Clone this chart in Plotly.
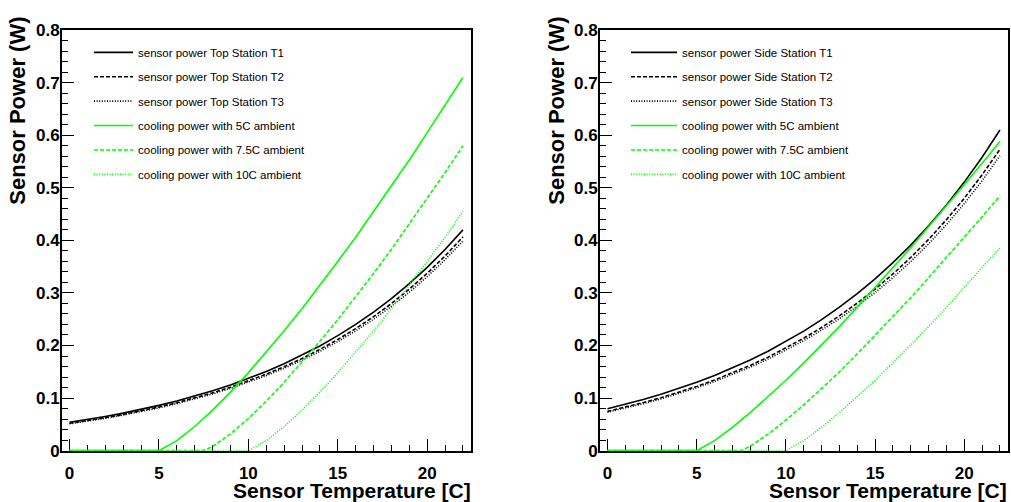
import plotly.graph_objects as go

# Sensor temperature grid [C]
temp = list(range(0, 23))

# Sensor power, Top Station (W)
top_t1 = [0.0540, 0.0593, 0.0651, 0.0714, 0.0784, 0.0861, 0.0945, 0.1037, 0.1139, 0.1250, 0.1372,
          0.1506, 0.1653, 0.1815, 0.1992, 0.2187, 0.2401, 0.2635, 0.2893, 0.3176, 0.3486, 0.3827, 0.4201]
top_t2 = [0.0520, 0.0571, 0.0627, 0.0688, 0.0756, 0.0830, 0.0912, 0.1001, 0.1099, 0.1207, 0.1324,
          0.1454, 0.1597, 0.1753, 0.1926, 0.2114, 0.2321, 0.2549, 0.2799, 0.3073, 0.3374, 0.3704, 0.4067]
top_t3 = [0.0510, 0.0560, 0.0615, 0.0675, 0.0742, 0.0814, 0.0894, 0.0982, 0.1078, 0.1184, 0.1299,
          0.1426, 0.1567, 0.1720, 0.1889, 0.2074, 0.2277, 0.2500, 0.2745, 0.3014, 0.3309, 0.3633, 0.3989]

# Sensor power, Side Station (W)
side_t1 = [0.0795, 0.0880, 0.0971, 0.1071, 0.1181, 0.1299, 0.1429, 0.1570, 0.1724, 0.1892, 0.2075,
           0.2274, 0.2492, 0.2729, 0.2987, 0.3269, 0.3576, 0.3911, 0.4276, 0.4674, 0.5109, 0.5583, 0.6100]
side_t2 = [0.0747, 0.0827, 0.0913, 0.1007, 0.1110, 0.1221, 0.1343, 0.1476, 0.1621, 0.1778, 0.1951,
           0.2138, 0.2342, 0.2565, 0.2808, 0.3073, 0.3361, 0.3676, 0.4019, 0.4394, 0.4802, 0.5248, 0.5734]
side_t3 = [0.0731, 0.0810, 0.0893, 0.0985, 0.1087, 0.1195, 0.1315, 0.1444, 0.1586, 0.1741, 0.1909,
           0.2092, 0.2293, 0.2511, 0.2748, 0.3007, 0.3290, 0.3598, 0.3934, 0.4300, 0.4700, 0.5136, 0.5612]

# Cooling power temperature grids, one per ambient temperature [C]
temp_amb5 = [0, 5] + list(range(6, 23))
temp_amb75 = [0, 7.5] + list(range(8, 23))
temp_amb10 = [0, 10] + list(range(11, 23))

# Cooling power, Top Station geometry (W)
top_cool5 = [0, 0, 0.0189, 0.0459, 0.0771, 0.1113, 0.148, 0.187, 0.228, 0.270, 0.314,
             0.360, 0.406, 0.455, 0.504, 0.553, 0.605, 0.657, 0.710]
top_cool75 = [0, 0, 0.0078, 0.0318, 0.0611, 0.094, 0.130, 0.168, 0.208, 0.249, 0.292,
              0.337, 0.383, 0.431, 0.479, 0.529, 0.580]
top_cool10 = [0, 0, 0.0189, 0.0459, 0.0771, 0.1113, 0.148, 0.187, 0.228, 0.270, 0.314,
              0.360, 0.406, 0.455]

# Cooling power, Side Station geometry (W)
side_cool5 = [0, 0, 0.0191, 0.0442, 0.0722, 0.1022, 0.1339, 0.167, 0.201, 0.236, 0.273,
              0.310, 0.348, 0.386, 0.426, 0.465, 0.506, 0.547, 0.588]
side_cool75 = [0, 0, 0.0083, 0.0312, 0.0579, 0.0870, 0.118, 0.150, 0.184, 0.219, 0.254,
               0.291, 0.329, 0.367, 0.406, 0.445, 0.485]
side_cool10 = [0, 0, 0.0191, 0.0442, 0.0722, 0.1022, 0.1339, 0.167, 0.201, 0.236, 0.273,
               0.310, 0.348, 0.386]

x_tick_vals = [0, 5, 10, 15, 20]
x_tick_text = ["0", "5", "10", "15", "20"]
y_tick_vals = [0, 0.1, 0.2, 0.3, 0.4, 0.5, 0.6, 0.7, 0.8]
y_tick_text = ["0", "0.1", "0.2", "0.3", "0.4", "0.5", "0.6", "0.7", "0.8"]
x_title = "Sensor Temperature [C]"
y_title = "Sensor Power (W)"

FONT = "Liberation Sans"
BLACK = "#000000"
GREEN = "#00ff00"
DASH = "4px,2px"
DOT = "1px,1.6px"
LW = 1.6

W, H = 1011, 502

fig = go.Figure()


def add_panel(station, sensors, cools, xa, ya, legend):
    styles = [(BLACK, "solid"), (BLACK, DASH), (BLACK, DOT)]
    for i, (vals, (col, dash)) in enumerate(zip(sensors, styles)):
        fig.add_trace(go.Scatter(
            x=temp, y=vals, mode="lines", xaxis=xa, yaxis=ya, legend=legend,
            legendgroup=f"{legend}_s{i}",
            name=f"sensor power {station} Station T{i + 1}",
            line=dict(color=col, width=LW, dash=dash)))
    cool_names = ["5C", "7.5C", "10C"]
    cool_x = [temp_amb5, temp_amb75, temp_amb10]
    for i, (xs, vals, dash) in enumerate(zip(cool_x, cools, ["solid", DASH, DOT])):
        fig.add_trace(go.Scatter(
            x=xs, y=vals, mode="lines", xaxis=xa, yaxis=ya, legend=legend,
            legendgroup=f"{legend}_c{i}",
            name=f"cooling power with {cool_names[i]} ambient",
            line=dict(color=GREEN, width=LW, dash=dash)))


add_panel("Top", [top_t1, top_t2, top_t3], [top_cool5, top_cool75, top_cool10], "x", "y", "legend")
add_panel("Side", [side_t1, side_t2, side_t3], [side_cool5, side_cool75, side_cool10], "x2", "y2", "legend2")


def bold(labels):
    return [f"<b>{t}</b>" for t in labels]


tick_font = dict(family=FONT, size=17, color=BLACK, weight="bold")

y_dom = [(H - 459) / H, (H - 22) / H]
axis_common = dict(
    showgrid=False, zeroline=False, showline=True, linecolor=BLACK, linewidth=2,
    mirror=True, ticks="inside", ticklen=12, tickwidth=1, tickcolor=BLACK,
    tickfont=tick_font, layer="below traces",
)
xaxis_common = dict(axis_common, range=[-0.42, 22.45], tickvals=x_tick_vals,
                    ticktext=bold(x_tick_text),
                    minor=dict(dtick=1, ticklen=6, ticks="inside", tickcolor=BLACK),
                    ticklabelstandoff=6)
yaxis_common = dict(axis_common, range=[0, 0.8], tickvals=y_tick_vals,
                    ticktext=bold(y_tick_text),
                    minor=dict(dtick=0.02, ticklen=6, ticks="inside", tickcolor=BLACK),
                    ticklabelstandoff=-3)

legend_common = dict(
    bgcolor="rgba(0,0,0,0)", borderwidth=0, xanchor="left", yanchor="top",
    font=dict(family=FONT, size=11.5, color=BLACK), tracegroupgap=5.4,
    traceorder="grouped",
)

fig.update_layout(
    width=W, height=H, margin=dict(l=0, r=0, t=0, b=0),
    paper_bgcolor="white", plot_bgcolor="white",
    font=dict(family=FONT, color=BLACK),
    xaxis=dict(xaxis_common, domain=[62 / W, 471 / W], anchor="y"),
    yaxis=dict(yaxis_common, domain=y_dom, anchor="x"),
    xaxis2=dict(xaxis_common, domain=[600 / W, 1008 / W], anchor="y2"),
    yaxis2=dict(yaxis_common, domain=y_dom, anchor="x2"),
    legend=dict(legend_common, x=89 / W, y=(H - 30) / H, itemwidth=39),
    legend2=dict(legend_common, x=626 / W, y=(H - 30) / H, itemwidth=46),
    showlegend=True,
)

x_title_font = dict(family=FONT, size=21, color=BLACK, weight=700)
y_title_font = dict(family=FONT, size=22, color=BLACK, weight=700)
for x_right, y_center in [(473, 18), (1009, 557)]:
    fig.add_annotation(text=x_title, xref="paper", yref="paper", x=x_right / W, y=0,
                       xanchor="right", yanchor="bottom", yshift=-12, showarrow=False,
                       font=x_title_font)
    fig.add_annotation(text=y_title, xref="paper", yref="paper", x=y_center / W, y=(H - 6) / H,
                       xanchor="center", yanchor="top", textangle=-90, showarrow=False,
                       font=y_title_font)

fig.write_html("out.html")
